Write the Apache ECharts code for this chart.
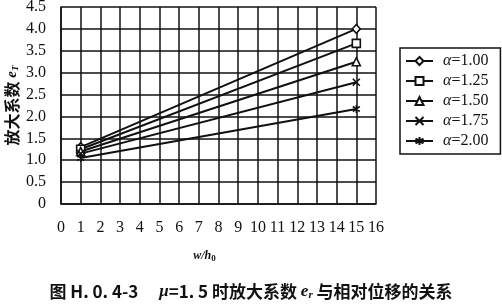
<!DOCTYPE html>
<html><head><meta charset="utf-8">
<script src="https://cdn.jsdelivr.net/npm/echarts@6/dist/echarts.min.js"></script>
<style>html,body{margin:0;padding:0;background:#fff}#c{width:502px;height:304px}</style>
</head><body><div id="c"></div>
<script>
const xPoints = [1, 15];
const seriesNames = ['α=1.00', 'α=1.25', 'α=1.50', 'α=1.75', 'α=2.00'];
const valuesA100 = [1.30, 4.00];
const valuesA125 = [1.25, 3.67];
const valuesA150 = [1.20, 3.25];
const valuesA175 = [1.15, 2.78];
const valuesA200 = [1.05, 2.17];
const xTicks = [0,1,2,3,4,5,6,7,8,9,10,11,12,13,14,15,16];
const yTicks = [0,0.5,1.0,1.5,2.0,2.5,3.0,3.5,4.0,4.5];

const allValues = [valuesA100, valuesA125, valuesA150, valuesA175, valuesA200];
const symbols = [
  'diamond',
  'rect',
  'triangle',
  'path://M0,0 L10,10 M10,0 L0,10',
  'path://M5,0 L5,10 M0,2 L10,8 M10,2 L0,8 M2,3 L8,7 M8,3 L2,7'
];
const sizes = [[8,9],[8,8],[8,8],[7,7],[7,8]];

const serif = '"Liberation Serif","DejaVu Serif",serif';
const cjk = '"Noto Sans CJK SC","Liberation Serif",serif';

const chart = echarts.init(document.getElementById('c'));
chart.setOption({
  animation: false,
  backgroundColor: '#fff',
  title: {
    text: '图 H. 0. 4-3　 {i|μ}=1. 5 时放大系数 {i|e}{s|r} 与相对位移的关系',
    left: 'center', top: 278,
    textStyle: {
      fontFamily: cjk, fontSize: 17, fontWeight: 'bold', color: '#111',
      rich: {
        i: {fontFamily: serif, fontStyle: 'italic', fontSize: 17, fontWeight: 'bold', color: '#111'},
        s: {fontFamily: serif, fontStyle: 'italic', fontSize: 11, verticalAlign: 'bottom', padding: [7,0,0,0], color: '#111'}
      }
    }
  },
  grid: {left: 61, right: 126, top: 7, bottom: 100, outerBoundsMode: 'none', containLabel: false},
  legend: {
    orient: 'vertical', left: 400, top: 48,
    padding: [5, 12, 5, 5],
    itemGap: 4, itemWidth: 27, itemHeight: 10,
    borderColor: '#111', borderWidth: 1.5,
    data: seriesNames,
    formatter: function (n) { return '{a|α}{b|' + n.slice(1) + '}'; },
    textStyle: {
      fontFamily: serif, fontSize: 16, color: '#111', padding: [0,0,0,5],
      rich: {
        a: {fontFamily: serif, fontStyle: 'italic', fontSize: 16, color: '#111'},
        b: {fontFamily: serif, fontSize: 16, color: '#111'}
      }
    }
  },
  xAxis: {
    type: 'value', min: xTicks[0], max: xTicks[xTicks.length-1], interval: 1,
    name: '{i|w/h}{s|0}', nameLocation: 'middle', nameGap: 45,
    nameTextStyle: {
      padding: [0, 28, 0, 0],
      rich: {
        i: {fontFamily: serif, fontStyle: 'italic', fontWeight: 'bold', fontSize: 12, color: '#111'},
        s: {fontFamily: serif, fontSize: 9, fontWeight: 'bold', verticalAlign: 'bottom', padding: [5,0,0,0], color: '#111'}
      }
    },
    axisLine: {show: true, lineStyle: {color: '#111', width: 1.5}},
    axisTick: {show: false},
    splitLine: {show: true, lineStyle: {color: '#111', width: 1.5}},
    axisLabel: {margin: 16, fontFamily: serif, fontSize: 16, color: '#111'}
  },
  yAxis: {
    type: 'value', min: yTicks[0], max: yTicks[yTicks.length-1], interval: 0.5,
    name: '放大系数 {i|e}{s|T}', nameLocation: 'middle', nameGap: 41, nameRotate: 90,
    nameMoveOverlap: false,
    nameTextStyle: {
      fontFamily: cjk, fontSize: 16, fontWeight: 'bold', color: '#111',
      rich: {
        i: {fontFamily: serif, fontStyle: 'italic', fontSize: 15, fontWeight: 'bold', color: '#111'},
        s: {fontFamily: serif, fontStyle: 'italic', fontSize: 9, verticalAlign: 'bottom', padding: [5,0,0,0], color: '#111'}
      }
    },
    axisLine: {show: true, lineStyle: {color: '#111', width: 1.5}},
    axisTick: {show: false},
    splitLine: {show: true, lineStyle: {color: '#111', width: 1.5}},
    axisLabel: {
      margin: 15, fontFamily: serif, fontSize: 16, color: '#111',
      formatter: function (v) { return v === 0 ? '0' : v.toFixed(1); }
    }
  },
  series: allValues.map(function (vals, i) {
    return {
      name: seriesNames[i], type: 'line',
      data: xPoints.map(function (x, j) { return [x, vals[j]]; }),
      symbol: symbols[i], symbolSize: sizes[i], showAllSymbol: true,
      lineStyle: {color: '#111', width: 2},
      itemStyle: {color: '#fff', borderColor: '#111', borderWidth: 1.6},
      emphasis: {disabled: true}
    };
  })
});
</script></body></html>
